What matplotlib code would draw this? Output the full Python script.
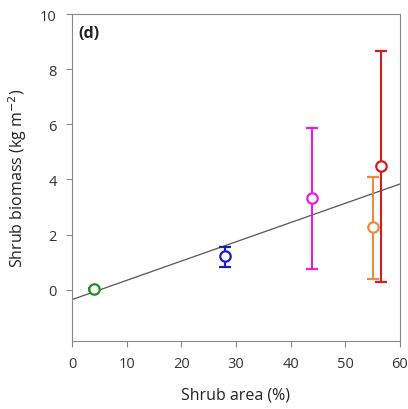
import numpy as np
import matplotlib.pyplot as plt

plt.rcParams['font.family'] = ['Open Sans', 'DejaVu Sans']

# shrub area (%) and biomass (kg m-2) per site, with error bar ends
area = [4, 28, 44, 55, 56.5]
biomass = [0.02, 1.21, 3.32, 2.26, 4.49]
upper = [0.06, 1.54, 5.88, 4.07, 8.66]
lower = [-0.02, 0.83, 0.75, 0.39, 0.27]
colors = ['#1f8f1f', '#1c1cc8', '#e81ee8', '#f08a42', '#d81c1c']

fig = plt.figure(figsize=(4.08, 4.10), dpi=100)
ax = fig.add_axes([0.1765, 0.1666, 0.8035, 0.7968])

# linear fit across all sites
slope, icpt = np.polyfit(area, biomass, 1)
xx = np.array([0, 60])
ax.plot(xx, icpt + slope * xx, color='#555555', lw=0.9, zorder=2)

for i in range(len(area)):
    yerr = [[biomass[i] - lower[i]], [upper[i] - biomass[i]]]
    ax.errorbar(area[i], biomass[i], yerr=yerr, fmt='o', ms=7.5, mfc='white',
                mec=colors[i], mew=1.6, ecolor=colors[i], elinewidth=1.5,
                capsize=4.5, capthick=1.5, zorder=3)

ax.set_xlim(0, 60)
ax.set_ylim(-1.85, 10)
ax.set_xticks(range(0, 61, 10))
ax.set_yticks(range(0, 11, 2))
for s in ax.spines.values():
    s.set_color('#888888')
ax.tick_params(direction='out', length=4, color='#888888', labelsize=10.5,
               labelcolor='#333333', pad=7)
ax.set_xlabel('Shrub area (%)', fontsize=11.5, color='#222222', labelpad=11)
ax.set_ylabel('Shrub biomass (kg m$^{-2}$)', fontsize=11.5, color='#222222', labelpad=8)
ax.text(0.02, 0.965, '(d)', transform=ax.transAxes, fontsize=11.5,
        fontweight='bold', va='top', color='#222222')

fig.savefig('out.png', dpi=100)
